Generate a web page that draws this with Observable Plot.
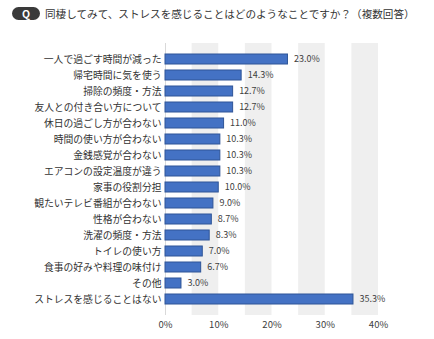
<!DOCTYPE html>
<html><head><meta charset="utf-8">
<script src="https://cdn.jsdelivr.net/npm/d3@7"></script>
<script src="https://cdn.jsdelivr.net/npm/@observablehq/plot@0.6"></script>
<style>
body{margin:0;background:#fff;font-family:"Noto Sans CJK JP",sans-serif;}
#wrap{position:relative;width:434px;height:339px;}
#title{position:absolute;left:12px;top:6px;display:flex;align-items:center;font-size:10.6px;color:#333;white-space:nowrap;}
#q{display:inline-block;background:#3a3a3a;color:#fff;font-weight:bold;font-size:10.5px;border-radius:7px;width:28px;height:13px;line-height:13px;text-align:center;margin-right:5px;}
</style></head>
<body><div id="wrap"><div id="title"><span id="q">Q</span>同棲してみて、ストレスを感じることはどのようなことですか？（複数回答）</div></div>
<script>
const categories = ["一人で過ごす時間が減った","帰宅時間に気を使う","掃除の頻度・方法","友人との付き合い方について","休日の過ごし方が合わない","時間の使い方が合わない","金銭感覚が合わない","エアコンの設定温度が違う","家事の役割分担","観たいテレビ番組が合わない","性格が合わない","洗濯の頻度・方法","トイレの使い方","食事の好みや料理の味付け","その他","ストレスを感じることはない"];
const values = [23.0,14.3,12.7,12.7,11.0,10.3,10.3,10.3,10.0,9.0,8.7,8.3,7.0,6.7,3.0,35.3];
const xTicks = [0,10,20,30,40];
const bandStarts = [5,15,25,35];
const bandEnds = [10,20,30,40];

const data = categories.map((c,i)=>({cat:c, value:values[i]}));
const bands = bandStarts.map((s,i)=>({x1:s, x2:bandEnds[i]}));

const chart = Plot.plot({
  width:434, height:339,
  marginTop:43, marginBottom:24, marginLeft:165, marginRight:56,
  style:{fontFamily:"'Noto Sans CJK JP', sans-serif", color:"#333", background:"transparent"},
  x:{domain:[0,40], ticks:xTicks, tickFormat:d=>d+"%", label:null, tickSize:0, tickPadding:6},
  y:{domain:categories, label:null, tickSize:0, tickPadding:4, padding:0.36},
  marks:[
    Plot.rectX(bands,{x1:"x1", x2:"x2", fill:"#efefef"}),
    Plot.ruleX([0],{stroke:"#d9d9d9"}),
    Plot.barX(data,{x:"value", y:"cat", fill:"#4472c4", stroke:"#2f5597", strokeWidth:1}),
    Plot.text(data,{x:"value", y:"cat", text:d=>d.value.toFixed(1)+"%", dx:6, textAnchor:"start", fontSize:9, fill:"#404040"}),
    Plot.axisY({tickSize:0, tickPadding:4, fontSize:9.8, label:null, color:"#333"}),
    Plot.axisX({ticks:xTicks, tickFormat:d=>d+"%", tickSize:0, tickPadding:6, fontSize:9.5, label:null, color:"#404040"})
  ]
});
document.getElementById("wrap").prepend(chart);
chart.style.position="absolute"; chart.style.left="0"; chart.style.top="0";
</script></body></html>
